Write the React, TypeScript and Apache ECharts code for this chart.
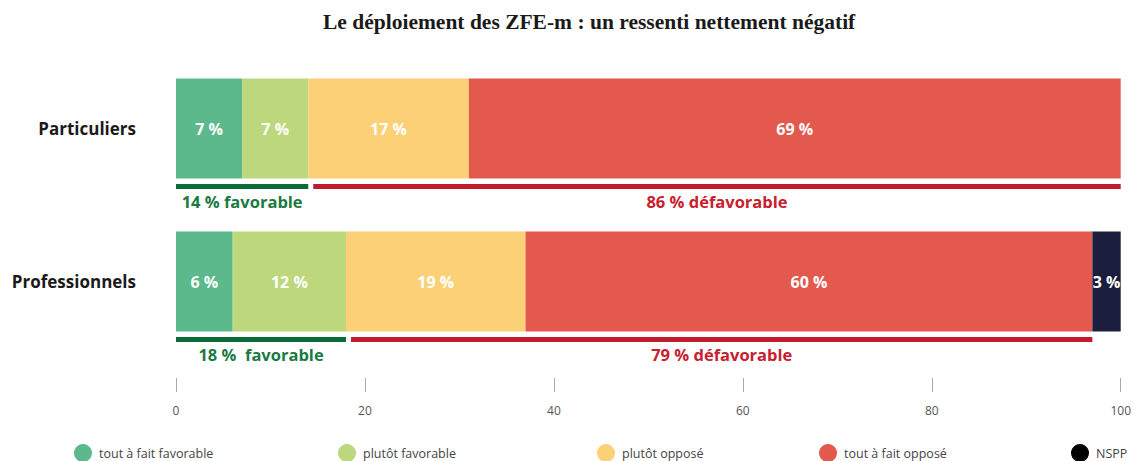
import React, { useEffect, useRef } from "react";
import * as echarts from "echarts";

const categories = ["Particuliers", "Professionnels"];
const seriesNames = ["tout à fait favorable", "plutôt favorable", "plutôt opposé", "tout à fait opposé", "NSPP"];
const toutFaitFavorable = [7, 6];
const plutotFavorable = [7, 12];
const plutotOppose = [17, 19];
const toutFaitOppose = [69, 60];
const nspp = [null, 3];
const favLabels = ["14 % favorable", "18 %  favorable"];
const unfavLabels = ["86 % défavorable", "79 % défavorable"];
const xTicks = [0, 20, 40, 60, 80, 100];

const colors = ["#5CB98C", "#BDD77D", "#FBD076", "#E4594E", "#1B1E3C"];
const legendColors = ["#5CB98C", "#BDD77D", "#FBD076", "#E4594E", "#000000"];
const legendLefts = [74, 338, 597, 819, 1071];

export default function App() {
  const ref = useRef<HTMLDivElement>(null);
  useEffect(() => {
    document.body.style.margin = "0";
    const chart = echarts.init(ref.current!, null, { renderer: "svg" });
    const values = [toutFaitFavorable, plutotFavorable, plutotOppose, toutFaitOppose, nspp];
    const bracketData = categories.map((_, i) => {
      const favEnd = toutFaitFavorable[i] + plutotFavorable[i];
      const unfavEnd = favEnd + plutotOppose[i] + toutFaitOppose[i];
      return [i, favEnd, unfavEnd];
    });
    const font = "'Open Sans', sans-serif";
    const barSeries = seriesNames.map((name, k) => ({
      name,
      type: "bar",
      stack: "total",
      barWidth: 100,
      data: values[k],
      itemStyle: { color: colors[k] },
      label: {
        show: true,
        position: "inside",
        formatter: "{c} %",
        color: "#ffffff",
        fontFamily: font,
        fontWeight: "bold",
        fontSize: 16,
      },
    }));
    const bracketSeries = {
      type: "custom",
      name: "brackets",
      data: bracketData,
      encode: { x: [1, 2], y: 0 },
      clip: false,
      silent: true,
      renderItem: (params: any, api: any) => {
        const yi = api.value(0);
        const idx = params.dataIndex;
        const p0 = api.coord([0, yi]);
        const p1 = api.coord([api.value(1), yi]);
        const p2 = api.coord([api.value(2), yi]);
        const ly = p0[1] + 58;
        const ty = p0[1] + 73;
        const gap = 5;
        return {
          type: "group",
          children: [
            { type: "rect", shape: { x: p0[0], y: ly - 2.5, width: p1[0] - p0[0], height: 5 }, style: { fill: "#0B6B36" } },
            { type: "rect", shape: { x: p1[0] + gap, y: ly - 2.5, width: p2[0] - p1[0] - gap, height: 5 }, style: { fill: "#C01A2D" } },
            {
              type: "text",
              x: (p0[0] + p1[0]) / 2,
              y: ty,
              style: { text: favLabels[idx], fill: "#1B7A42", font: `bold 16.5px ${font}`, align: "center", verticalAlign: "middle" },
            },
            {
              type: "text",
              x: (p1[0] + gap + p2[0]) / 2,
              y: ty,
              style: { text: unfavLabels[idx], fill: "#C8202F", font: `bold 16.5px ${font}`, align: "center", verticalAlign: "middle" },
            },
          ],
        };
      },
    };
    chart.setOption({
      animation: false,
      title: {
        text: "Le déploiement des ZFE-m : un ressenti nettement négatif",
        left: 318,
        top: 6,
        textStyle: { fontFamily: "'Liberation Serif', serif", fontWeight: "bold", fontSize: 21.5, color: "#1a1a1a" },
      },
      legend: seriesNames.map((name, k) => ({
        data: [{ name, itemStyle: { color: legendColors[k] } }],
        left: legendLefts[k],
        top: 444,
        padding: 0,
        icon: "circle",
        itemWidth: 22,
        itemHeight: 18,
        symbolKeepAspect: true,
        selectedMode: false,
        textStyle: { fontFamily: font, fontSize: 12.5, color: "#444" },
      })),
      grid: { left: 176, right: 13, top: 52, bottom: 103, containLabel: false },
      xAxis: {
        type: "value",
        min: 0,
        max: 100,
        interval: 20,
        offset: 20,
        axisLine: { show: false },
        axisTick: { show: true, length: 14, lineStyle: { color: "#aaaaaa" } },
        splitLine: { show: false },
        axisLabel: {
          margin: 26,
          fontFamily: font,
          fontSize: 12,
          color: "#555",
          formatter: (v: number) => (xTicks.includes(v) ? String(v) : ""),
        },
      },
      yAxis: {
        type: "category",
        data: categories,
        inverse: true,
        axisLine: { show: false },
        axisTick: { show: false },
        axisLabel: { margin: 40, fontFamily: font, fontWeight: "bold", fontSize: 17, color: "#1a1a1a" },
      },
      series: [...barSeries, bracketSeries],
    });
    return () => chart.dispose();
  }, []);
  return <div ref={ref} style={{ width: 1134, height: 461 }} />;
}
